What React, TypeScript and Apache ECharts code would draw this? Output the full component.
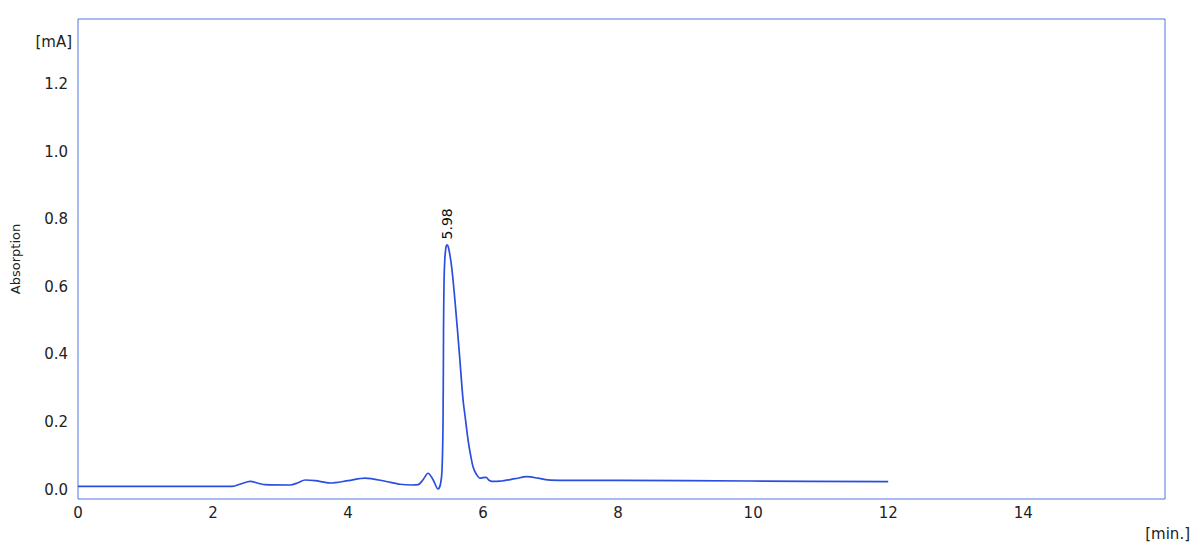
import React, { useEffect, useRef } from "react";
import * as echarts from "echarts";

// retention time [min.]
const times = [
  0, 2.284, 2.417, 2.55, 2.669, 2.772, 3.142, 3.261, 3.364, 3.512, 3.734, 4.001,
  4.252, 4.549, 4.771, 4.948, 5.037, 5.111, 5.185, 5.259, 5.333, 5.37, 5.392,
  5.407, 5.414, 5.422, 5.434, 5.451, 5.466, 5.485, 5.511, 5.536, 5.585, 5.648,
  5.703, 5.74, 5.777, 5.814, 5.851, 5.896, 5.955, 5.999, 6.044, 6.088, 6.132,
  6.251, 6.473, 6.65, 6.813, 6.961, 7.139, 8.027, 9.951, 12.0,
];
// absorption [mA]
const absorption = [
  0.0097, 0.0097, 0.0177, 0.0245, 0.0192, 0.0148, 0.0139, 0.0207, 0.0287, 0.0266,
  0.0198, 0.0266, 0.034, 0.0251, 0.0162, 0.0139, 0.0148, 0.0295, 0.0487, 0.0295,
  0.0021, 0.0177, 0.0591, 0.2068, 0.4727, 0.6204, 0.6854, 0.7179, 0.7238, 0.7179,
  0.6913, 0.6558, 0.5554, 0.4047, 0.2659, 0.2068, 0.1477, 0.1034, 0.0679, 0.0473,
  0.034, 0.0355, 0.0363, 0.0281, 0.0245, 0.0251, 0.0325, 0.0384, 0.034, 0.029,
  0.0278, 0.0275, 0.0257, 0.0236,
];
const peakIndex = 28;
const peakLabel = "5.98";
const xTicks = [0, 2, 4, 6, 8, 10, 12, 14];
const yTicks = [0, 0.2, 0.4, 0.6, 0.8, 1.0, 1.2];

const FONT = "DejaVu Sans";

export default function App() {
  const ref = useRef<HTMLDivElement>(null);
  useEffect(() => {
    if (!ref.current) return;
    const chart = echarts.init(ref.current, null, { renderer: "svg" });
    const data = times.map((t, i) => [t, absorption[i]]);
    chart.setOption({
      animation: false,
      backgroundColor: "#ffffff",
      grid: {
        left: 78,
        right: 35,
        top: 19,
        bottom: 53,
        show: true,
        borderColor: "#5275e0",
        borderWidth: 1,
        backgroundColor: "transparent",
      },
      xAxis: {
        type: "value",
        min: 0,
        max: 16.1,
        interval: 2,
        axisLine: { show: false },
        axisTick: { show: false },
        splitLine: { show: false },
        axisLabel: {
          customValues: xTicks,
          color: "#222",
          fontFamily: FONT,
          fontSize: 15,
          margin: 6,
          formatter: (v: number) => String(v),
        },
      },
      yAxis: {
        type: "value",
        min: -0.0275,
        max: 1.392,
        name: "Absorption",
        nameLocation: "middle",
        nameRotate: 90,
        nameGap: 56,
        nameTextStyle: { color: "#222", fontFamily: FONT, fontSize: 13 },
        axisLine: { show: false },
        axisTick: { show: false },
        splitLine: { show: false },
        axisLabel: {
          customValues: yTicks,
          color: "#222",
          fontFamily: FONT,
          fontSize: 15,
          margin: 10,
          formatter: (v: number) => v.toFixed(1),
        },
      },
      graphic: [
        {
          type: "text",
          right: 1200 - 72,
          top: 34,
          style: {
            text: "[mA]",
            fill: "#222",
            font: `15px "${FONT}"`,
          },
        },
        {
          type: "text",
          right: 10,
          top: 526,
          style: {
            text: "[min.]",
            fill: "#222",
            font: `15px "${FONT}"`,
          },
        },
      ],
      series: [
        {
          type: "line",
          data,
          showSymbol: false,
          symbol: "none",
          smooth: 0.3,
          lineStyle: { color: "#2a4ee0", width: 1.7 },
          z: 3,
          markPoint: {
            symbol: "circle",
            symbolSize: 1,
            itemStyle: { color: "rgba(0,0,0,0)" },
            silent: true,
            data: [
              {
                coord: [times[peakIndex], absorption[peakIndex]],
                label: {
                  show: true,
                  position: "top",
                  rotate: 90,
                  align: "left",
                  verticalAlign: "middle",
                  distance: 5,
                  formatter: peakLabel,
                  color: "#111",
                  fontFamily: FONT,
                  fontSize: 14,
                },
              },
            ],
          },
        },
      ],
    });
    return () => chart.dispose();
  }, []);
  return (
    <div
      ref={ref}
      style={{ position: "fixed", left: 0, top: 0, width: 1200, height: 552 }}
    />
  );
}
